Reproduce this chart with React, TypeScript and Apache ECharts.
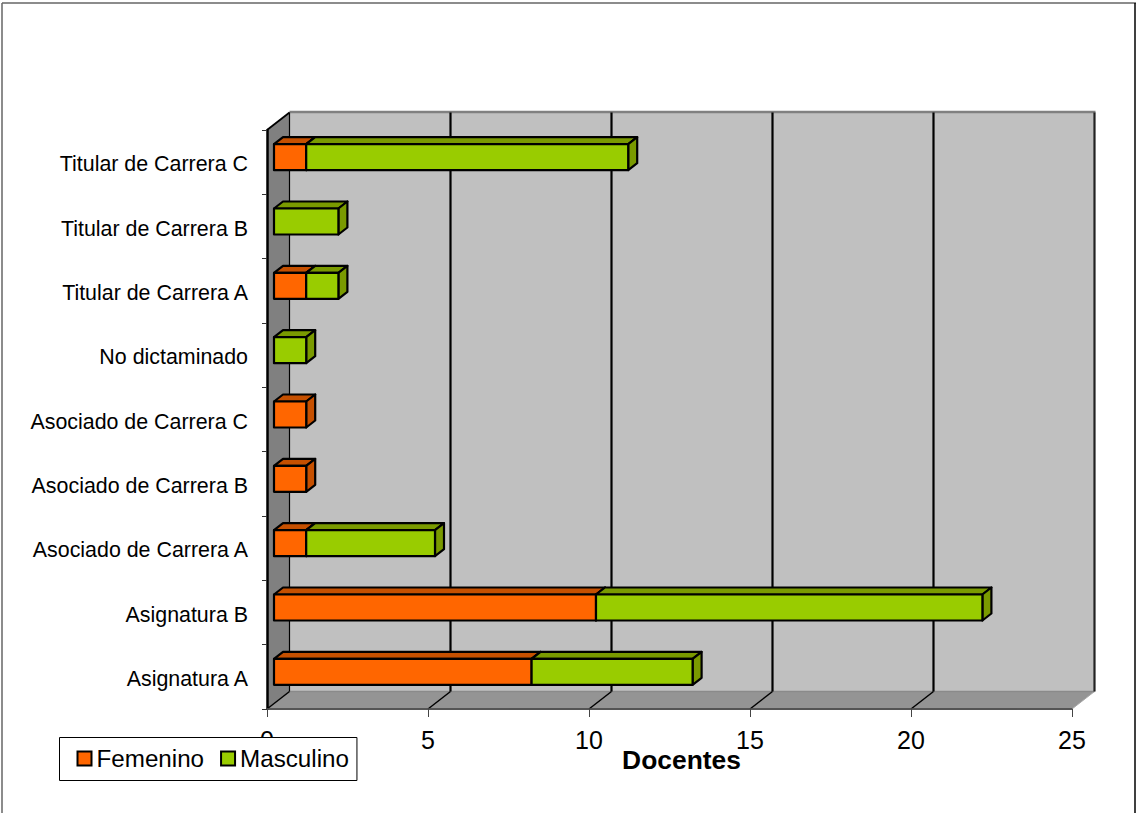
import React, { useEffect, useRef } from "react";
import * as echarts from "echarts";

const categories = [
  "Asignatura A",
  "Asignatura B",
  "Asociado de Carrera A",
  "Asociado de Carrera B",
  "Asociado de Carrera C",
  "No dictaminado",
  "Titular de Carrera A",
  "Titular de Carrera B",
  "Titular de Carrera C",
];
const femenino = [8, 10, 1, 1, 1, 0, 1, 0, 1];
const masculino = [5, 12, 4, 0, 0, 1, 1, 2, 10];
const xTicks = [0, 5, 10, 15, 20, 25];

const FONT = '"Liberation Sans", Arial, sans-serif';
const DEPTH_X = 22.5;
const DEPTH_Y = -17.5;
const BAR_DX = 7;
const BAR_DY = -5;
const BAR_H = 26;
const BAR_DEPTH_X = 9;
const BAR_DEPTH_Y = -7;

function poly(points: number[][], fill: string, stroke: string, lineWidth: number) {
  return {
    type: "polygon",
    shape: { points },
    style: { fill, stroke, lineWidth, lineJoin: "round" },
  };
}
function seg(a: number[], b: number[], stroke: string, lineWidth: number) {
  return {
    type: "line",
    shape: { x1: a[0], y1: a[1], x2: b[0], y2: b[1] },
    style: { stroke, lineWidth },
  };
}

function renderWalls(params: any, api: any) {
  const cs = params.coordSys;
  const left = cs.x;
  const right = cs.x + cs.width;
  const top = cs.y;
  const bottom = cs.y + cs.height;
  const dx = DEPTH_X;
  const dy = DEPTH_Y;
  const children: any[] = [
    poly([[left + dx, top + dy], [right + dx, top + dy], [right + dx, bottom + dy], [left + dx, bottom + dy]], "#C0C0C0", "none", 0),
    poly([[left, top], [left + dx, top + dy], [left + dx, bottom + dy], [left, bottom]], "#808080", "none", 0),
    poly([[left, bottom], [left + dx, bottom + dy], [right + dx, bottom + dy], [right, bottom]], "#949494", "none", 0),
    seg([left + dx, top + dy - 0.5], [right + dx + 1, top + dy - 0.5], "#808080", 2.5),
    seg([left, top], [left + dx, top + dy], "#000000", 1.8),
    seg([left + dx, bottom + dy], [right + dx, bottom + dy], "#8A8A8A", 1.5),
    seg([left, bottom], [right, bottom], "#555555", 2),
    seg([right, bottom], [right + dx, bottom + dy], "#A8A8A8", 1),
  ];
  xTicks.forEach((t) => {
    const x = api.coord([t, 0])[0];
    const w = t === 0 ? 1.2 : 2.2;
    children.push(seg([x + dx, top + dy], [x + dx, bottom + dy], t === 25 ? "#222222" : "#000000", w));
    if (t !== 25) children.push(seg([x, bottom], [x + dx, bottom + dy], "#000000", 1.5));
  });
  return { type: "group", children };
}

function makeBarRenderer(front: string, shade: string) {
  return (params: any, api: any) => {
    const start = api.value(0);
    const end = api.value(1);
    const idx = api.value(2);
    if (end <= start) return null;
    const [x0raw, yc] = api.coord([start, idx]);
    const x1raw = api.coord([end, idx])[0];
    const x0 = x0raw + BAR_DX;
    const x1 = x1raw + BAR_DX;
    const y0 = yc + BAR_DY - BAR_H / 2;
    const y1 = y0 + BAR_H;
    const dx = BAR_DEPTH_X;
    const dy = BAR_DEPTH_Y;
    return {
      type: "group",
      children: [
        poly([[x0, y0], [x0 + dx, y0 + dy], [x1 + dx, y0 + dy], [x1, y0]], shade, "#000000", 2.2),
        poly([[x1, y0], [x1 + dx, y0 + dy], [x1 + dx, y1 + dy], [x1, y1]], shade, "#000000", 2.2),
        poly([[x0, y0], [x1, y0], [x1, y1], [x0, y1]], front, "#000000", 2.2),
      ],
    };
  };
}

export default function App() {
  const ref = useRef<HTMLDivElement>(null);

  useEffect(() => {
    const chart = echarts.init(ref.current!, undefined, { renderer: "svg" });
    const femData = categories.map((_, i) => [0, femenino[i], i]);
    const mascData = categories.map((_, i) => [femenino[i], femenino[i] + masculino[i], i]);
    chart.setOption({
      animation: false,
      backgroundColor: "#FFFFFF",
      textStyle: { fontFamily: FONT },
      grid: { left: 267, right: 64, top: 130, bottom: 104, containLabel: false },
      legend: {
        show: true,
        data: ["Femenino", "Masculino"],
        left: 59.5,
        top: 737.5,
        orient: "horizontal",
        icon: "rect",
        itemWidth: 14,
        itemHeight: 14,
        itemGap: 16,
        padding: [9, 8, 10, 17],
        backgroundColor: "#FFFFFF",
        borderColor: "#000000",
        borderWidth: 1,
        borderRadius: 0,
        z: 10,
        itemStyle: { borderColor: "#000000", borderWidth: 2 },
        textStyle: { fontFamily: FONT, fontSize: 24.2, color: "#000000", padding: 0 },
      },
      xAxis: {
        type: "value",
        min: 0,
        max: 25,
        interval: 5,
        z: 3,
        axisLine: { show: true, lineStyle: { color: "#555555", width: 1.5 } },
        axisTick: { show: true, length: 8, lineStyle: { color: "#444444", width: 1 } },
        axisLabel: { fontFamily: FONT, fontSize: 25, color: "#000000", margin: 18 },
        splitLine: { show: false },
        name: "Docentes",
        nameLocation: "middle",
        nameGap: 38,
        nameMoveOverlap: false,
        nameTextStyle: {
          fontFamily: FONT,
          fontSize: 26.4,
          fontWeight: "bold",
          color: "#000000",
          padding: [0, 0, 0, 24],
        },
      },
      yAxis: {
        type: "category",
        data: categories,
        z: 3,
        axisLine: { show: true, lineStyle: { color: "#000000", width: 2.5 } },
        axisTick: { show: true, length: 5, alignWithLabel: false, lineStyle: { color: "#333333", width: 1 } },
        axisLabel: {
          fontFamily: FONT,
          fontSize: 21.4,
          color: "#000000",
          margin: 19,
          formatter: (v: string) => `{a|${v}}`,
          rich: {
            a: { fontFamily: FONT, fontSize: 21.4, color: "#000000", padding: [4, 0, 0, 0] },
          },
        },
        splitLine: { show: false },
      },
      graphic: [
        { type: "line", silent: true, z: 20, shape: { x1: 2, y1: 3, x2: 1136, y2: 3 }, style: { stroke: "#666666", lineWidth: 1.5 } },
        { type: "line", silent: true, z: 20, shape: { x1: 2, y1: 3, x2: 2, y2: 813 }, style: { stroke: "#666666", lineWidth: 1.5 } },
        { type: "line", silent: true, z: 20, shape: { x1: 1135, y1: 3, x2: 1135, y2: 813 }, style: { stroke: "#000000", lineWidth: 1.5 } },
      ],
      series: [
        {
          name: "walls",
          type: "custom",
          silent: true,
          z: 1,
          renderItem: renderWalls,
          data: [[0, 0]],
          encode: { x: 0, y: 1 },
        },
        {
          name: "Femenino",
          type: "custom",
          z: 2,
          itemStyle: { color: "#FF6600" },
          renderItem: makeBarRenderer("#FF6600", "#C65000"),
          data: femData,
          encode: { x: 1, y: 2 },
        },
        {
          name: "Masculino",
          type: "custom",
          z: 2,
          itemStyle: { color: "#99CC00" },
          renderItem: makeBarRenderer("#99CC00", "#7A9A00"),
          data: mascData,
          encode: { x: 1, y: 2 },
        },
      ],
    });
    return () => chart.dispose();
  }, []);

  return (
    <div
      ref={ref}
      style={{ position: "absolute", left: 0, top: 0, width: 1136, height: 813, overflow: "hidden" }}
    />
  );
}
